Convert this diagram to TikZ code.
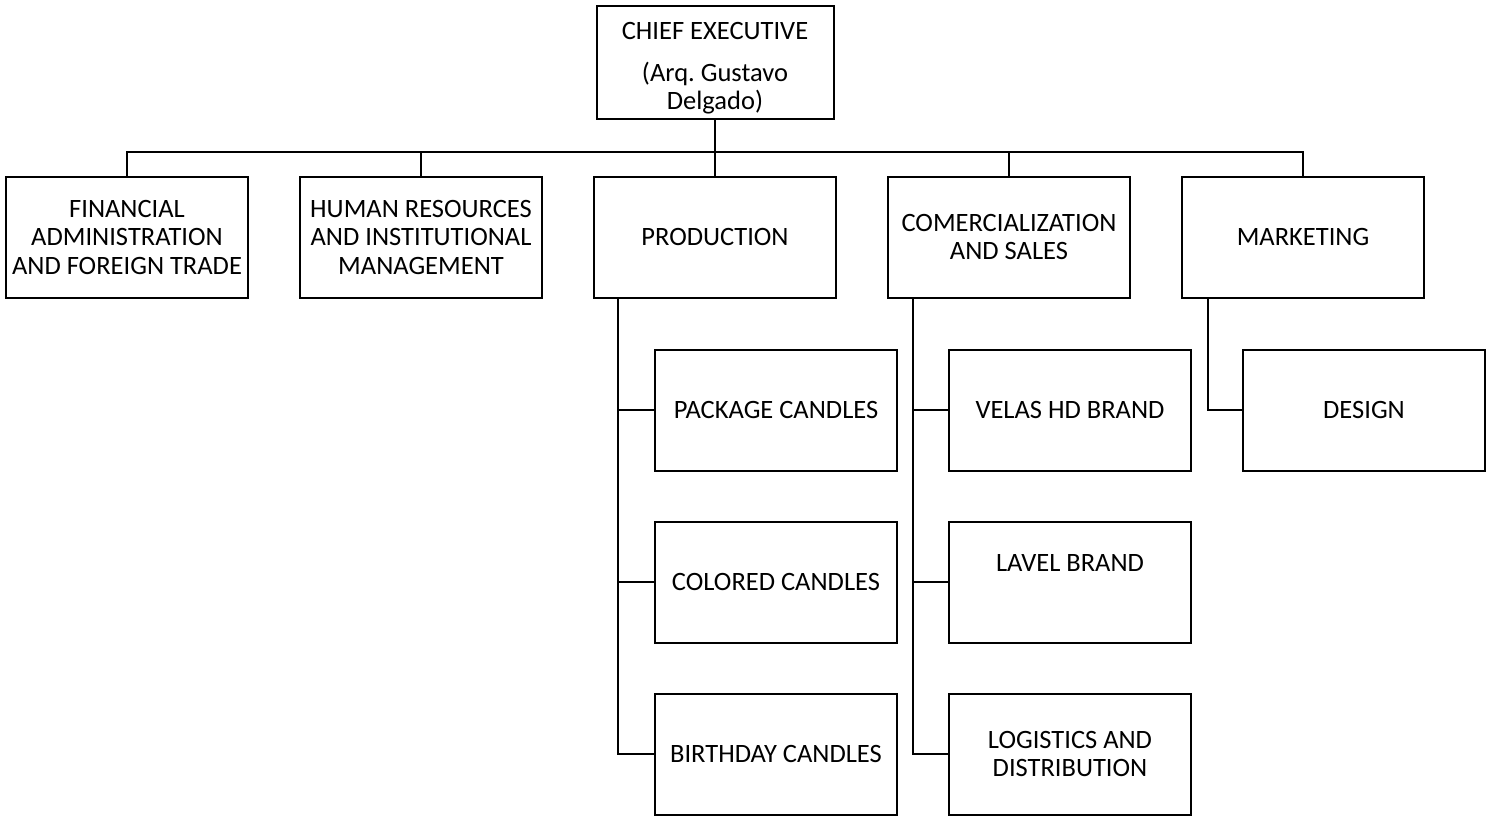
\documentclass[tikz,border=0pt]{standalone}
\usepackage{fontspec}
\setmainfont{Carlito}
\frenchspacing
\begin{document}
\begin{tikzpicture}[x=1pt,y=-1pt,
  txt/.style={font=\fontsize{26.5}{28.5}\selectfont,align=center,inner sep=0pt},
  box/.style={txt,draw,line width=2pt,minimum width=242pt,minimum height=121pt},
  conn/.style={line width=2pt}]
\useasboundingbox (0,0) rectangle (1488,819);
\node[box,minimum width=237pt,minimum height=113pt] (ceo) at (715,62) {};
\node[txt] (ceot1) at (715,31) {CHIEF EXECUTIVE};
\node[txt] (ceot2) at (715,88) {(Arq.\ Gustavo\\Delgado)};
\node[box] (fin) at (127,237) {FINANCIAL\\ADMINISTRATION\\AND FOREIGN TRADE};
\node[box] (hr) at (421,237) {HUMAN RESOURCES\\AND INSTITUTIONAL\\MANAGEMENT};
\node[box] (prod) at (715,237) {PRODUCTION};
\node[box] (com) at (1009,237) {COMERCIALIZATION\\AND SALES};
\node[box] (mkt) at (1303,237) {MARKETING};
\node[box] (pkg) at (776,410) {PACKAGE CANDLES};
\node[box] (col) at (776,582) {COLORED CANDLES};
\node[box] (bir) at (776,754) {BIRTHDAY CANDLES};
\node[box] (vel) at (1070,410) {VELAS HD BRAND};
\node[box] (lav) at (1070,582) {};
\node[txt] (lavt) at (1070,563) {LAVEL BRAND};
\node[box] (log) at (1070,754) {LOGISTICS AND\\DISTRIBUTION};
\node[box] (des) at (1364,410) {DESIGN};
\coordinate (bus) at (715,152);
\draw[conn] (fin.north) -- (fin.north |- bus) -- (mkt.north |- bus) -- (mkt.north);
\draw[conn] (ceo.south) -- (prod.north);
\draw[conn] (hr.north) -- (hr.north |- bus);
\draw[conn] (com.north) -- (com.north |- bus);
\coordinate (pv) at (618,297);
\coordinate (cv) at (913,297);
\coordinate (mv) at (1208,297);
\draw[conn] (pv) |- (bir.west);
\draw[conn] (pv |- pkg.west) -- (pkg.west);
\draw[conn] (pv |- col.west) -- (col.west);
\draw[conn] (cv) |- (log.west);
\draw[conn] (cv |- vel.west) -- (vel.west);
\draw[conn] (cv |- lav.west) -- (lav.west);
\draw[conn] (mv) |- (des.west);
\end{tikzpicture}
\end{document}
